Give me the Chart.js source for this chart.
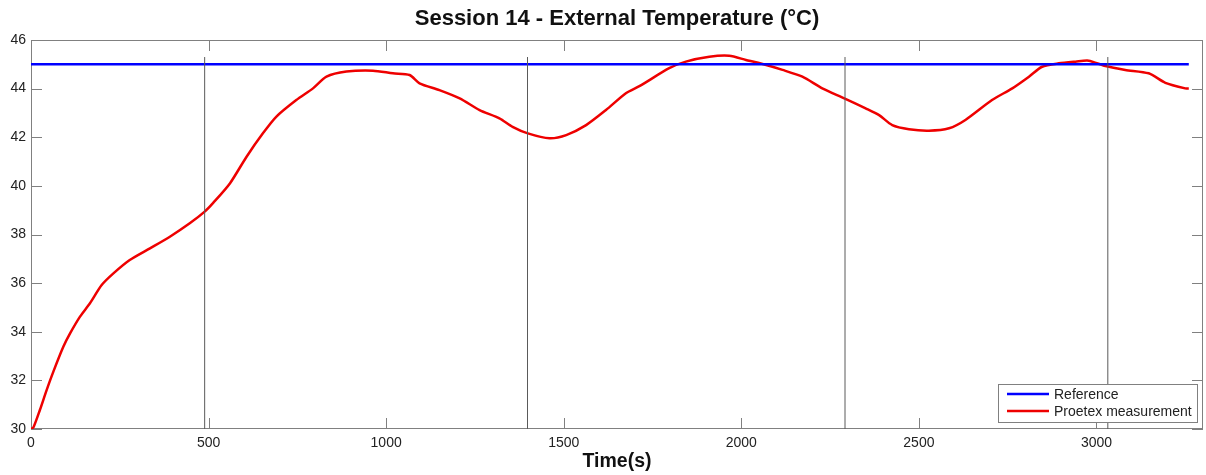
<!DOCTYPE html>
<html>
<head>
<meta charset="utf-8">
<script src="https://cdn.jsdelivr.net/npm/chart.js@4/dist/chart.umd.min.js"></script>
<style>
  html, body { margin: 0; padding: 0; background: #fff; }
  #wrap { width: 1206px; height: 475px; }
</style>
</head>
<body>
<div id="wrap"><canvas id="tempChart"></canvas></div>
<script>
const timeS = [0, 7, 25, 44, 63, 91, 110, 138, 166, 199, 232, 278, 335, 391, 447, 489, 513, 560, 607, 653, 691,
  747, 794, 832, 888, 963, 1019, 1066, 1094, 1150, 1207, 1263, 1319, 1356, 1399, 1460, 1507, 1563, 1619,
  1675, 1713, 1797, 1844, 1910, 1966, 2013, 2060, 2116, 2172, 2228, 2290, 2350, 2388, 2425, 2472, 2528,
  2585, 2631, 2706, 2763, 2810, 2847, 2894, 2941, 2978, 3025, 3081, 3147, 3194, 3250, 3260];
const proetexTemp = [30.0, 30.07, 30.78, 31.6, 32.36, 33.38, 33.93, 34.62, 35.17, 35.92, 36.4, 36.95, 37.43,
  37.91, 38.46, 38.94, 39.3, 40.1, 41.2, 42.16, 42.85, 43.53, 44.01, 44.49, 44.7, 44.74, 44.63, 44.56,
  44.22, 43.94, 43.6, 43.12, 42.78, 42.43, 42.16, 41.96, 42.09, 42.5, 43.12, 43.81, 44.1, 44.84, 45.11,
  45.31, 45.35, 45.18, 45.01, 44.77, 44.49, 44.01, 43.6, 43.19, 42.91, 42.5, 42.33, 42.27, 42.37, 42.71,
  43.53, 44.01, 44.49, 44.9, 45.04, 45.11, 45.15, 44.93, 44.77, 44.63, 44.24, 44.01, 44.01];

// reference setpoint
const refTime = [0, 3260];
const refTemp = [45, 45];

// vertical session markers
const markerTimes = [489, 1398, 2292, 3032];
const markerRange = [30, 45.3];

const xTicks = [0, 500, 1000, 1500, 2000, 2500, 3000];
const yTicks = [30, 32, 34, 36, 38, 40, 42, 44, 46];
const legendNames = ['Reference', 'Proetex measurement'];
const chartTitle = 'Session 14 - External Temperature (°C)';

const FONT = '"Liberation Sans", Arial, sans-serif';
const toPts = (xs, ys) => xs.map((v, i) => ({ x: v, y: ys[i] }));

const markerSets = markerTimes.map(t => ({
  label: 'marker',
  data: toPts([t, t], markerRange),
  borderColor: '#5a5a5a',
  borderWidth: 1,
  pointRadius: 0
}));

// box, inward ticks, title over the axes and legend like the original figure
const frame = {
  id: 'frame',
  beforeDatasetsDraw(chart) {
    const { ctx, chartArea: a, scales: { x, y } } = chart;
    ctx.save();
    ctx.strokeStyle = '#808080';
    ctx.lineWidth = 1;
    ctx.strokeRect(a.left + 0.5, a.top + 0.5, a.width - 1, a.height - 1);
    ctx.beginPath();
    xTicks.forEach(v => {
      const px = Math.round(x.getPixelForValue(v)) + 0.5;
      ctx.moveTo(px, a.bottom); ctx.lineTo(px, a.bottom - 11);
      ctx.moveTo(px, a.top); ctx.lineTo(px, a.top + 11);
    });
    yTicks.forEach(v => {
      const py = Math.round(y.getPixelForValue(v)) + 0.5;
      ctx.moveTo(a.left, py); ctx.lineTo(a.left + 11, py);
      ctx.moveTo(a.right, py); ctx.lineTo(a.right - 11, py);
    });
    ctx.stroke();

    ctx.fillStyle = '#111';
    ctx.font = 'bold 22px ' + FONT;
    ctx.textAlign = 'center';
    ctx.textBaseline = 'middle';
    ctx.fillText(chartTitle, (a.left + a.right) / 2, 19);
    ctx.restore();
  },
  afterDraw(chart) {
    const { ctx, chartArea: a } = chart;
    const w = 199, h = 38;
    const bx = a.right - 6 - w, by = a.bottom - 7 - h;
    ctx.save();
    ctx.fillStyle = '#fff';
    ctx.fillRect(bx, by, w, h);
    ctx.strokeStyle = '#808080';
    ctx.lineWidth = 1;
    ctx.strokeRect(bx + 0.5, by + 0.5, w, h);
    const cols = ['#0000ff', '#ee0000'];
    ctx.font = '14px ' + FONT;
    ctx.textBaseline = 'middle';
    legendNames.forEach((name, i) => {
      const ly = by + 10 + i * 17;
      ctx.strokeStyle = cols[i];
      ctx.lineWidth = 2.5;
      ctx.beginPath();
      ctx.moveTo(bx + 9, ly); ctx.lineTo(bx + 51, ly);
      ctx.stroke();
      ctx.fillStyle = '#222';
      ctx.fillText(name, bx + 56, ly + 1);
    });
    ctx.restore();
  }
};

new Chart(document.getElementById('tempChart'), {
  type: 'line',
  data: {
    datasets: [
      ...markerSets,
      {
        label: legendNames[0],
        data: toPts(refTime, refTemp),
        borderColor: '#0000ff',
        borderWidth: 2.5,
        pointRadius: 0
      },
      {
        label: legendNames[1],
        data: toPts(timeS, proetexTemp),
        borderColor: '#ee0000',
        borderWidth: 2.5,
        pointRadius: 0,
        tension: 0.25
      }
    ]
  },
  options: {
    responsive: true,
    maintainAspectRatio: false,
    animation: false,
    layout: { padding: { top: 40, right: 3 } },
    plugins: {
      legend: { display: false },
      tooltip: { enabled: false },
      title: { display: false }
    },
    scales: {
      x: {
        type: 'linear',
        min: 0,
        max: 3300,
        afterBuildTicks: s => { s.ticks = xTicks.map(v => ({ value: v })); },
        afterFit: s => { s.height = 46; },
        grid: { display: false, drawTicks: false },
        border: { display: false },
        ticks: {
          color: '#222',
          padding: 6,
          maxRotation: 0,
          callback: v => String(v),
          font: { family: FONT, size: 14 }
        },
        title: {
          display: true,
          text: 'Time(s)',
          color: '#111',
          padding: { top: 0, bottom: 2 },
          font: { family: FONT, size: 19.5, weight: 'bold' }
        }
      },
      y: {
        min: 30,
        max: 46,
        afterBuildTicks: s => { s.ticks = yTicks.map(v => ({ value: v })); },
        afterFit: s => { s.width = 31; },
        grid: { display: false, drawTicks: false },
        border: { display: false },
        ticks: {
          color: '#222',
          padding: 5,
          font: { family: FONT, size: 14 }
        }
      }
    }
  },
  plugins: [frame]
});
</script>
</body>
</html>
